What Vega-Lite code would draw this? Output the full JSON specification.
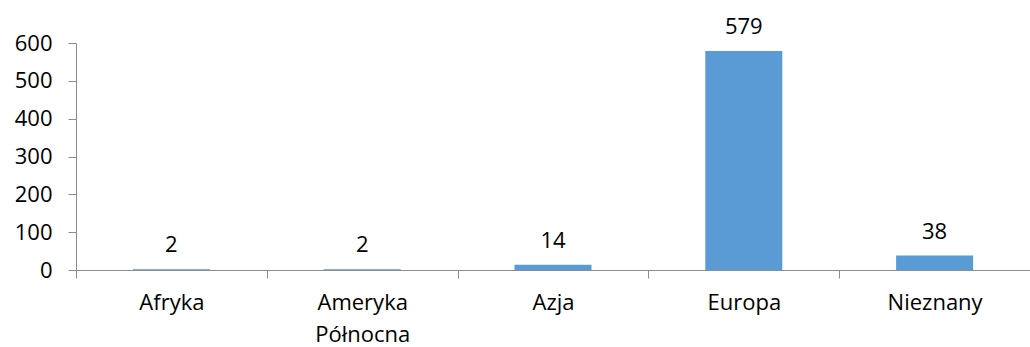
{
  "$schema": "https://vega.github.io/schema/vega-lite/v6.json",
  "autosize": "none",
  "width": 954,
  "height": 227,
  "padding": {"left": 76, "top": 43, "right": 0, "bottom": 77},
  "background": "white",
  "config": {
    "view": {"stroke": null},
    "font": "Open Sans",
    "axis": {"grid": false, "domainColor": "#8c8c8c", "tickColor": "#8c8c8c", "labelColor": "#000000", "labelFont": "Open Sans", "labelFontSize": 22, "title": null}
  },
  "data": {
    "values": [
      {"region": "Afryka", "count": 2},
      {"region": "Ameryka Północna", "count": 2},
      {"region": "Azja", "count": 14},
      {"region": "Europa", "count": 579},
      {"region": "Nieznany", "count": 38}
    ]
  },
  "encoding": {
    "x": {
      "field": "region", "type": "nominal", "sort": null,
      "scale": {"paddingInner": 0, "paddingOuter": 0},
      "axis": {
        "labelAngle": 0, "tickBand": "extent", "tickSize": 8, "labelPadding": 14,
        "labelLineHeight": 32,
        "labelExpr": "datum.label == 'Ameryka Północna' ? ['Ameryka', 'Północna'] : datum.label"
      }
    },
    "y": {
      "field": "count", "type": "quantitative",
      "scale": {"domain": [0, 600], "nice": false},
      "axis": {"values": [0, 100, 200, 300, 400, 500, 600], "tickSize": 8, "labelPadding": 16}
    }
  },
  "layer": [
    {"mark": {"type": "bar", "color": "#5b9bd5", "size": 77}},
    {"mark": {"type": "text", "baseline": "middle", "dy": -24, "fontSize": 22, "color": "#000000"}, "encoding": {"text": {"field": "count", "type": "quantitative"}}}
  ]
}
